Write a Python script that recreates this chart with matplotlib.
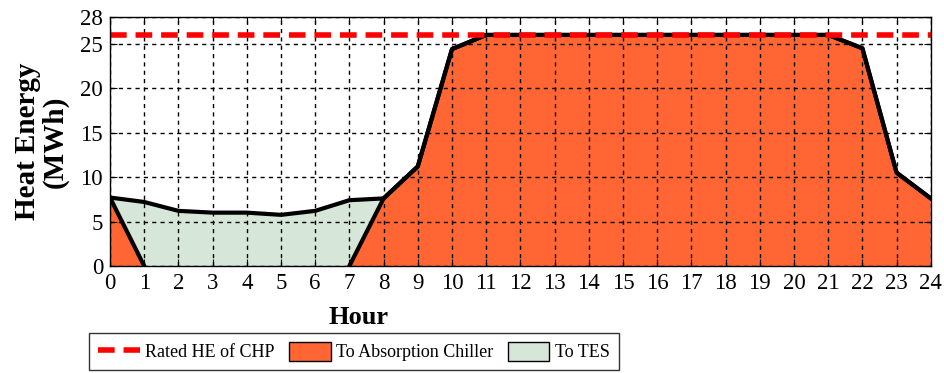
import numpy as np
import matplotlib.pyplot as plt
from matplotlib.patches import Patch
from matplotlib.lines import Line2D

# data (MWh per hour)
hours = np.arange(0, 25)
total_he = [7.7, 7.2, 6.2, 6.0, 6.0, 5.75, 6.2, 7.4, 7.6, 11.2, 24.4, 26.0, 26.0,
            26.0, 26.0, 26.0, 26.0, 26.0, 26.0, 26.0, 26.0, 26.0, 24.5, 10.5, 7.6]
to_chiller = [7.7, 0, 0, 0, 0, 0, 0, 0, 7.6, 11.2, 24.4, 26.0, 26.0,
              26.0, 26.0, 26.0, 26.0, 26.0, 26.0, 26.0, 26.0, 26.0, 24.5, 10.5, 7.6]
to_tes = [0, 7.2, 6.2, 6.0, 6.0, 5.75, 6.2, 7.4, 0, 0, 0, 0, 0,
          0, 0, 0, 0, 0, 0, 0, 0, 0, 0, 0, 0]
rated_he = 26.0
y_ticks = [0, 5, 10, 15, 20, 25, 28]

plt.rcParams['font.family'] = ['Liberation Serif', 'DejaVu Serif']
orange = '#FF6633'
green = '#D6E7D9'

fig = plt.figure(figsize=(9.44, 3.73), dpi=100)
ax = fig.add_axes([0.1165, 0.287, 0.8695, 0.667])

ax.stackplot(hours, to_chiller, to_tes, colors=[orange, green], linewidth=0, zorder=2)
ax.plot(hours, total_he, color='black', lw=3, zorder=4)

# chiller edge: only the sloped parts, not the run along zero
chiller_edge = np.array(to_chiller, dtype=float)
for i in range(1, len(chiller_edge) - 1):
    if chiller_edge[i] == 0 and chiller_edge[i - 1] == 0 and chiller_edge[i + 1] == 0:
        chiller_edge[i] = np.nan
ax.plot(hours, chiller_edge, color='black', lw=3, zorder=4)

ax.axhline(rated_he, color='red', lw=4, ls=(0, (3, 1.6)), zorder=5)

ax.set_xlim(0, 24)
ax.set_ylim(0, 28)
ax.set_xticks(hours)
ax.set_yticks(y_ticks)
ax.tick_params(direction='in', top=True, right=True, labelsize=16.5, length=5, pad=5)
ax.grid(True, color='black', ls=(0, (3, 3)), lw=1, zorder=3)
ax.set_axisbelow(False)
for s in ax.spines.values():
    s.set_linewidth(1)
    s.set_zorder(6)

fig.text(0.38, 0.148, 'Hour', ha='center', va='center', fontsize=19, fontweight='bold')
fig.text(0.044, 0.62, 'Heat Energy\n(MWh)', ha='center', va='center', rotation=90,
         fontsize=21, fontweight='bold', linespacing=1.05)

handles = [Line2D([0], [0], color='red', lw=4, ls=(0, (3, 1.6))),
           Patch(facecolor=orange, edgecolor='black'),
           Patch(facecolor=green, edgecolor='black')]
labels = ['Rated HE of CHP', 'To Absorption Chiller', 'To TES']
leg = fig.legend(handles, labels, loc='upper center', bbox_to_anchor=(0.375, 0.107),
                 ncol=3, fontsize=13, frameon=True, fancybox=False, edgecolor='black',
                 handlelength=2.3, handleheight=1.2, columnspacing=0.8, handletextpad=0.3,
                 borderpad=0.5, borderaxespad=0)
leg.get_frame().set_linewidth(1)

fig.savefig('out.png', dpi=100)
